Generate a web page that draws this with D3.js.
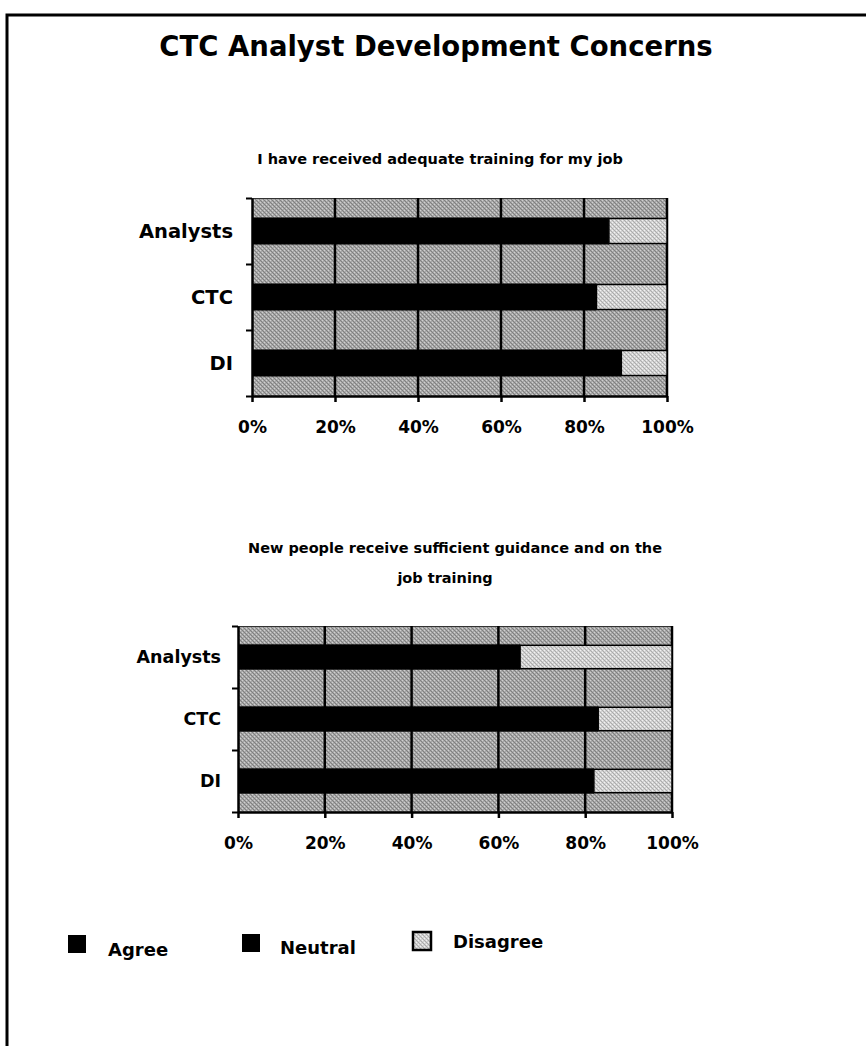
<!DOCTYPE html>
<html>
<head>
<meta charset="utf-8">
<script src="https://cdn.jsdelivr.net/npm/d3@7"></script>
<style>
  html, body { margin: 0; padding: 0; background: #fff; }
  svg { display: block; }
  text { font-family: "DejaVu Sans", sans-serif; font-weight: bold; fill: #000; }
</style>
</head>
<body>
<svg id="chart" width="866" height="1046"></svg>
<script>
// Survey responses (percent of respondents)
const categories = ["Analysts", "CTC", "DI"];
const trainingAgree    = [86, 83, 89];
const trainingNeutral  = [0, 0, 0];
const trainingDisagree = [14, 17, 11];
const guidanceAgree    = [65, 83, 82];
const guidanceNeutral  = [0, 0, 0];
const guidanceDisagree = [35, 17, 18];
const xTicks = [0, 20, 40, 60, 80, 100];
const seriesNames = ["Agree", "Neutral", "Disagree"];

const svg = d3.select("#chart");
const defs = svg.append("defs");

// Halftone-like fills for the plot background and the Disagree segments
function halftone(id, base, dark, light) {
  const p = defs.append("pattern").attr("id", id)
    .attr("width", 4).attr("height", 4).attr("patternUnits", "userSpaceOnUse");
  p.append("rect").attr("width", 4).attr("height", 4).attr("fill", base);
  [[0,0],[2,2],[1,1],[3,3]].forEach(([x,y]) => p.append("rect").attr("x", x).attr("y", y).attr("width", 1).attr("height", 1).attr("fill", dark));
  [[2,0],[0,2]].forEach(([x,y]) => p.append("rect").attr("x", x).attr("y", y).attr("width", 1).attr("height", 1).attr("fill", light));
}
halftone("bgFill", "#a8a8a8", "#808080", "#d0d0d0");
halftone("disFill", "#d2d2d2", "#ababab", "#f2f2f2");
const seriesFill = ["#000", "#000", "url(#disFill)"];

// Page frame
svg.append("path")
  .attr("d", "M7,1046 V15 H866")
  .attr("fill", "none").attr("stroke", "#000").attr("stroke-width", 3);

// Title
svg.append("text")
  .attr("x", 436).attr("y", 56)
  .attr("text-anchor", "middle")
  .style("font-size", "27.5px")
  .text("CTC Analyst Development Concerns");

function drawPanel(cfg) {
  const { left, right, top, bottom, agree, neutral, disagree, labelSize, tickSize, tickPad } = cfg;
  const g = svg.append("g");

  const x = d3.scaleLinear().domain([0, 100]).range([left, right]);
  const y = d3.scaleBand().domain(categories).range([top, bottom])
    .paddingInner(0.59).paddingOuter(0.295);
  const yEdge = d3.scaleLinear().domain([0, categories.length]).range([top, bottom]);

  // plot background
  g.append("rect")
    .attr("x", x(0)).attr("y", top)
    .attr("width", x(100) - x(0)).attr("height", bottom - top)
    .attr("fill", "url(#bgFill)");
  g.append("line")
    .attr("x1", x(0)).attr("x2", x(100)).attr("y1", top + 0.5).attr("y2", top + 0.5)
    .attr("stroke", "#333").attr("stroke-width", 1);

  // vertical gridlines
  g.selectAll(".grid").data(xTicks.slice(1)).join("line")
    .attr("x1", d => x(d)).attr("x2", d => x(d))
    .attr("y1", top).attr("y2", bottom)
    .attr("stroke", "#000").attr("stroke-width", 2.5);

  // stacked bars
  const rows = categories.map((c, i) => ({ cat: c, vals: [agree[i], neutral[i], disagree[i]] }));
  rows.forEach(r => {
    let acc = 0;
    r.vals.forEach((v, k) => {
      const x0 = acc; acc += v;
      if (v <= 0) return;
      const isDis = k === 2;
      g.append("rect")
        .attr("x", x(x0)).attr("width", x(acc) - x(x0))
        .attr("y", y(r.cat) + (isDis ? 1 : 0))
        .attr("height", y.bandwidth() - (isDis ? 2 : 0))
        .attr("fill", seriesFill[k])
        .attr("stroke", isDis ? "#000" : "none")
        .attr("stroke-width", isDis ? 1.5 : 0);
    });
  });

  // x axis
  const xAxis = g.append("g").attr("transform", `translate(0,${bottom})`)
    .call(d3.axisBottom(x).tickValues(xTicks).tickSize(6).tickSizeOuter(0).tickPadding(tickPad)
      .tickFormat(d => d + "%"));
  xAxis.select(".domain").attr("stroke-width", 2.5);
  xAxis.selectAll(".tick line").attr("stroke-width", 2.5);
  xAxis.selectAll("text").style("font-size", tickSize + "px")
    .attr("font-family", null).attr("fill", "#000");

  // y axis (ticks at category boundaries)
  const yAxis = g.append("g").attr("transform", `translate(${left},0)`)
    .call(d3.axisLeft(yEdge).ticks(categories.length).tickSize(6).tickSizeOuter(0).tickFormat(""));
  yAxis.select(".domain").attr("stroke-width", 2.5);
  yAxis.selectAll(".tick line").attr("stroke-width", 2);

  // category labels
  g.selectAll(".cat").data(categories).join("text")
    .attr("x", cfg.labelRight)
    .attr("y", d => y(d) + y.bandwidth() / 2)
    .attr("dy", "0.36em")
    .attr("text-anchor", "end")
    .style("font-size", labelSize + "px")
    .text(d => d);
}

// Panel 1
svg.append("text").attr("x", 440).attr("y", 164).attr("text-anchor", "middle")
  .style("font-size", "14.5px").text("I have received adequate training for my job");
drawPanel({
  left: 252, right: 667, top: 198, bottom: 396,
  agree: trainingAgree, neutral: trainingNeutral, disagree: trainingDisagree,
  labelRight: 233, labelSize: 19.5, tickSize: 17, tickPad: 19
});

// Panel 2
svg.append("text").attr("x", 455).attr("y", 553).attr("text-anchor", "middle")
  .style("font-size", "14.5px").text("New people receive sufficient guidance and on the");
svg.append("text").attr("x", 445).attr("y", 583).attr("text-anchor", "middle")
  .style("font-size", "14.5px").text("job training");
drawPanel({
  left: 238, right: 672, top: 626, bottom: 812,
  agree: guidanceAgree, neutral: guidanceNeutral, disagree: guidanceDisagree,
  labelRight: 221, labelSize: 17.5, tickSize: 17, tickPad: 19
});

// Legend
const legendPos = [
  { sx: 68, sy: 935, tx: 108, ty: 956 },
  { sx: 242, sy: 934, tx: 280, ty: 954 },
  { sx: 413, sy: 932, tx: 453, ty: 948 }
];
const legend = svg.append("g");
seriesNames.forEach((name, i) => {
  const p = legendPos[i];
  legend.append("rect")
    .attr("x", p.sx).attr("y", p.sy).attr("width", 18).attr("height", 18)
    .attr("fill", seriesFill[i])
    .attr("stroke", i === 2 ? "#000" : "none").attr("stroke-width", 2.5);
  legend.append("text").attr("x", p.tx).attr("y", p.ty)
    .style("font-size", "18px").text(name);
});
</script>
</body>
</html>
